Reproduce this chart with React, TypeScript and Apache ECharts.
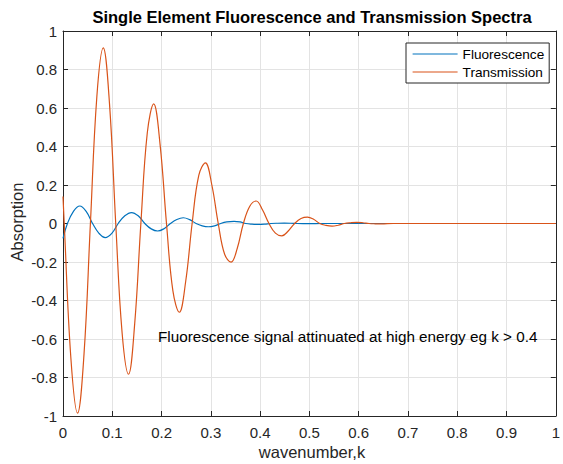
import React, { useEffect, useRef } from "react";
import * as echarts from "echarts";

const FONT = "'Liberation Sans', Arial, Helvetica, sans-serif";

const xTickLabels = ["0", "0.1", "0.2", "0.3", "0.4", "0.5", "0.6", "0.7", "0.8", "0.9", "1"];
const yTickLabels = ["-1", "-0.8", "-0.6", "-0.4", "-0.2", "0", "0.2", "0.4", "0.6", "0.8", "1"];

const fluorK = [0, 0.009, 0.0215, 0.034, 0.047, 0.06, 0.073, 0.0857, 0.099, 0.112, 0.1255, 0.139, 0.1525, 0.166, 0.179, 0.192, 0.205, 0.218, 0.231, 0.244, 0.257, 0.27, 0.2825, 0.295, 0.3075, 0.32, 0.3325, 0.347, 0.359, 0.371, 0.3835, 0.396, 0.409, 0.422, 0.4355, 0.449, 0.462, 0.475, 0.4875, 0.5, 0.525, 0.6, 0.7, 0.8, 0.9, 1.0];
const fluorV = [-0.077, 0, 0.064, 0.091, 0.063, 0, -0.051, -0.073, -0.051, 0, 0.04, 0.057, 0.04, 0, -0.028, -0.039, -0.027, 0, 0.021, 0.03, 0.02, 0, -0.012, -0.017, -0.012, 0, 0.008, 0.011, 0.008, 0, -0.0035, -0.005, -0.0035, 0, 0.0014, 0.002, 0.0014, 0, -0.0007, -0.001, 0, 0, 0, 0, 0, 0];

const transK = [0, 0.0025, 0.016, 0.0295, 0.0426, 0.0556, 0.0687, 0.0817, 0.0944, 0.107, 0.12, 0.133, 0.1455, 0.158, 0.171, 0.184, 0.197, 0.21, 0.223, 0.236, 0.249, 0.262, 0.2755, 0.289, 0.302, 0.315, 0.328, 0.341, 0.3535, 0.366, 0.379, 0.392, 0.405, 0.418, 0.431, 0.444, 0.457, 0.47, 0.483, 0.496, 0.5085, 0.521, 0.5335, 0.546, 0.5585, 0.571, 0.5835, 0.596, 0.6085, 0.621, 0.6335, 0.646, 0.67, 0.7, 0.8, 0.9, 1.0];
const transV = [0.14, 0, -0.7, -0.985, -0.68, 0, 0.66, 0.912, 0.62, 0, -0.57, -0.783, -0.52, 0, 0.47, 0.621, 0.41, 0, -0.35, -0.461, -0.3, 0, 0.25, 0.315, 0.2, 0, -0.16, -0.201, -0.13, 0, 0.09, 0.117, 0.07, 0, -0.05, -0.064, -0.039, 0, 0.026, 0.033, 0.022, 0, -0.01, -0.014, -0.009, 0, 0.004, 0.006, 0.004, 0, -0.0015, -0.002, 0, 0, 0, 0, 0];

const seriesNames = ["Fluorescence", "Transmission"];
const titleText = "Single Element Fluorescence and Transmission Spectra";
const xName = "wavenumber,k";
const yName = "Absorption";
const noteText = "Fluorescence signal attinuated at high energy eg k > 0.4";

const AX = "#262626";
const GRID = "#e3e3e3";

function makeX(position: "bottom" | "top", main: boolean) {
  return {
    type: "value",
    position,
    min: 0,
    max: 1,
    interval: 0.1,
    axisLine: { show: true, onZero: false, lineStyle: { color: AX, width: 1 } },
    axisTick: { show: true, inside: true, length: 5, lineStyle: { color: AX, width: 1 } },
    axisLabel: {
      show: main,
      color: AX,
      fontSize: 15,
      fontFamily: FONT,
      margin: 9,
      formatter: (v: number) => xTickLabels[Math.round(v * 10)] ?? String(v),
    },
    splitLine: { show: main, lineStyle: { color: GRID, width: 1 } },
  };
}

function makeY(position: "left" | "right", main: boolean) {
  return {
    type: "value",
    position,
    min: -1,
    max: 1,
    interval: 0.2,
    axisLine: { show: true, onZero: false, lineStyle: { color: AX, width: 1 } },
    axisTick: { show: true, inside: true, length: 5, lineStyle: { color: AX, width: 1 } },
    axisLabel: {
      show: main,
      color: AX,
      fontSize: 15,
      fontFamily: FONT,
      margin: 6,
      formatter: (v: number) => yTickLabels[Math.round((v + 1) * 5)] ?? String(v),
    },
    splitLine: { show: main, lineStyle: { color: GRID, width: 1 } },
  };
}

export default function App() {
  const ref = useRef<HTMLDivElement>(null);
  useEffect(() => {
    if (!ref.current) return;
    const chart = echarts.init(ref.current, null, { renderer: "svg" });
    chart.setOption({
      animation: false,
      backgroundColor: "#fff",
      grid: { left: 63, right: 2, top: 31, bottom: 48, containLabel: false },
      xAxis: [makeX("bottom", true), makeX("top", false)],
      yAxis: [makeY("left", true), makeY("right", false)],
      legend: {
        orient: "vertical",
        left: 406,
        top: 43,
        itemWidth: 45,
        itemHeight: 14,
        itemGap: 4,
        padding: [4, 5, 4, 6],
        borderColor: AX,
        borderWidth: 1,
        borderRadius: 0,
        backgroundColor: "#fff",
        itemStyle: { opacity: 0 },
        lineStyle: { width: 1.2 },
        textStyle: { fontSize: 13.6, color: "#000", fontFamily: FONT },
        data: seriesNames,
      },
      graphic: [
        {
          type: "text",
          x: 312,
          y: 17,
          style: {
            text: titleText,
            font: `bold 16.5px ${FONT}`,
            fill: "#000",
            textAlign: "center",
            textVerticalAlign: "middle",
          },
        },
        {
          type: "text",
          x: 312,
          y: 452,
          style: {
            text: xName,
            font: `16.5px ${FONT}`,
            fill: AX,
            textAlign: "center",
            textVerticalAlign: "middle",
          },
        },
        {
          type: "text",
          x: 17,
          y: 222,
          rotation: Math.PI / 2,
          style: {
            text: yName,
            font: `16.5px ${FONT}`,
            fill: AX,
            textAlign: "center",
            textVerticalAlign: "middle",
          },
        },
        {
          type: "text",
          x: 158,
          y: 336,
          z: 100,
          style: {
            text: noteText,
            font: `15.25px ${FONT}`,
            fill: "#000",
            textAlign: "left",
            textVerticalAlign: "middle",
          },
        },
      ],
      series: [
        {
          name: seriesNames[0],
          type: "line",
          xAxisIndex: 0,
          yAxisIndex: 0,
          symbol: "none",
          smooth: 0.4,
          lineStyle: { color: "#0072BD", width: 1.2 },
          itemStyle: { color: "#0072BD" },
          data: fluorK.map((k, i) => [k, fluorV[i]]),
        },
        {
          name: seriesNames[1],
          type: "line",
          xAxisIndex: 0,
          yAxisIndex: 0,
          symbol: "none",
          smooth: 0.4,
          lineStyle: { color: "#D95319", width: 1.2 },
          itemStyle: { color: "#D95319" },
          data: transK.map((k, i) => [k, transV[i]]),
        },
      ],
    });
    return () => chart.dispose();
  }, []);
  return <div ref={ref} style={{ width: 563, height: 464, position: "absolute", left: 0, top: 0 }} />;
}
